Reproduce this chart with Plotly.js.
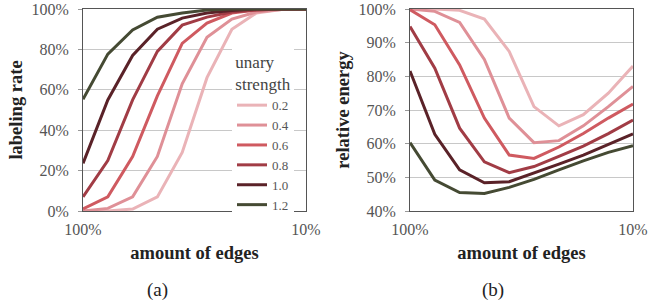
<!DOCTYPE html>
<html>
<head>
<meta charset="utf-8">
<script src="https://cdn.plot.ly/plotly-3.0.1.min.js"></script>
<style>html,body{margin:0;padding:0;background:#fff;}#chart{width:658px;height:303px;}</style>
</head>
<body>
<div id="chart"></div>
<script>
// amount of edges (fraction of all edges), log-spaced steps from 100% to 10%
const edges = [1, 0.774, 0.599, 0.464, 0.359, 0.278, 0.215, 0.167, 0.129, 0.1];
const strengths = ["0.2", "0.4", "0.6", "0.8", "1.0", "1.2"];
const colors = ["#eab3b7", "#df9097", "#cf5a60", "#a13c45", "#5a2228", "#454a33"];

// (a) labeling rate in %
const rate02 = [0, 0, 1, 7, 29, 66, 90, 98, 99.8, 100];
const rate04 = [0, 1.3, 7, 27, 63, 86, 95, 98.5, 99.8, 100];
const rate06 = [1, 7, 27, 57, 83, 93, 98, 99.5, 100, 100];
const rate08 = [7, 25, 55, 79, 92, 96, 98.5, 99.5, 100, 100];
const rate10 = [23.6, 55, 77, 90, 95.5, 98, 99.3, 100, 100, 100];
const rate12 = [55.3, 77.7, 89.6, 95.9, 98, 99.5, 100, 100, 100, 100];

// (b) relative energy in %
const energy02 = [100, 100, 99.6, 97, 87.4, 71, 65.3, 68.6, 75, 83.1];
const energy04 = [100, 99.3, 96, 85, 67.6, 60.3, 60.9, 65.3, 71, 77];
const energy06 = [99.8, 95.3, 83.4, 67.6, 56.6, 55.6, 59, 63, 67.6, 71.8];
const energy08 = [94.8, 82.4, 64.6, 54.6, 51.4, 53.2, 56.2, 59.3, 63, 67];
const energy10 = [81.6, 62.8, 52.2, 48.4, 48.7, 51.2, 53.9, 56.6, 59.8, 62.9];
const energy12 = [60.3, 49.2, 45.5, 45.2, 47, 49.4, 52.2, 54.9, 57.4, 59.4];

const rates = [rate02, rate04, rate06, rate08, rate10, rate12];
const energies = [energy02, energy04, energy06, energy08, energy10, energy12];

const xTickVals = [1, 0.1];
const xTickText = ["100%", "10%"];

const W = 658, H = 303;
const FONT = "Liberation Serif, Times New Roman, serif";

const traces = [];
strengths.forEach((s, i) => {
  traces.push({
    x: edges, y: rates[i], type: "scatter", mode: "lines",
    name: s, line: {color: colors[i], width: 3},
    xaxis: "x", yaxis: "y", showlegend: true
  });
});
strengths.forEach((s, i) => {
  traces.push({
    x: edges, y: energies[i], type: "scatter", mode: "lines",
    name: s, line: {color: colors[i], width: 3},
    xaxis: "x2", yaxis: "y2", showlegend: false
  });
});

const tickFont = {family: FONT, size: 16, color: "#555"};
const titleFont = {family: FONT, size: 18.5, color: "#222", weight: "bold"};

function xAxis(domain) {
  return {
    domain: domain, type: "log", range: [0, -1],
    tickvals: xTickVals, ticktext: xTickText,
    showgrid: false, zeroline: false,
    showline: true, mirror: true, linecolor: "#555", linewidth: 1,
    ticks: "", tickfont: tickFont, ticklabelstandoff: 4,
    title: {text: "amount of edges", font: titleFont, standoff: 8},
    fixedrange: true
  };
}
function yAxis(range, dtick, anchor, title) {
  return {
    domain: [1 - 211 / H, 1 - 9 / H], range: range, dtick: dtick,
    ticksuffix: "%", anchor: anchor,
    showgrid: true, gridcolor: "#c8c8c8", gridwidth: 1, zeroline: false,
    showline: true, mirror: true, linecolor: "#555", linewidth: 1,
    ticks: "outside", ticklen: 4, tickcolor: "#999", tickfont: tickFont,
    ticklabelstandoff: 6,
    title: {text: title, font: titleFont, standoff: 3},
    fixedrange: true
  };
}

const layout = {
  width: W, height: H,
  margin: {l: 0, r: 0, t: 0, b: 0},
  paper_bgcolor: "#fff", plot_bgcolor: "#fff",
  font: {family: FONT},
  xaxis: Object.assign(xAxis([83 / W, 306 / W]), {anchor: "y"}),
  xaxis2: Object.assign(xAxis([410 / W, 633 / W]), {anchor: "y2"}),
  yaxis: yAxis([0, 100], 20, "x", "labeling rate"),
  yaxis2: yAxis([40, 100], 10, "x2", "relative energy"),
  legend: {
    x: 232 / W, y: 1 - 46 / H, xanchor: "left", yanchor: "top",
    bgcolor: "#fff", borderwidth: 0,
    font: {family: FONT, size: 13, color: "#555"},
    title: {text: "unary<br>strength", side: "top center", font: {family: FONT, size: 17, color: "#444"}},
    itemwidth: 30, tracegroupgap: 0
  },
  annotations: [
    {text: "(a)", x: 157 / W, y: 1 - 290 / H, xref: "paper", yref: "paper", showarrow: false,
     xanchor: "center", yanchor: "middle",
     font: {family: FONT, size: 19, color: "#222"}},
    {text: "(b)", x: 493 / W, y: 1 - 290 / H, xref: "paper", yref: "paper", showarrow: false,
     xanchor: "center", yanchor: "middle",
     font: {family: FONT, size: 19, color: "#222"}}
  ]
};

Plotly.newPlot("chart", traces, layout, {displayModeBar: false, staticPlot: true});
</script>
</body>
</html>
